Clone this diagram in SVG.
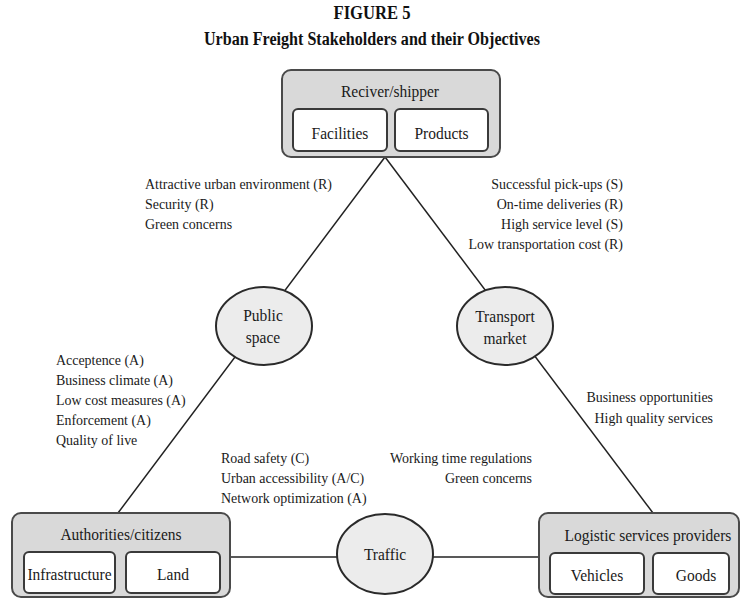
<svg xmlns="http://www.w3.org/2000/svg" width="743" height="598" viewBox="0 0 743 598">
<style>
.title{font-family:"Liberation Serif",serif;font-weight:bold;font-size:18.5px;fill:#111;text-anchor:middle}
.node{font-family:"Liberation Serif",serif;font-size:17.2px;fill:#1a1a1a;text-anchor:middle;transform-box:fill-box;transform-origin:center;transform:scaleX(0.9)}
.ann{font-family:"Liberation Serif",serif;font-size:15.5px;fill:#1a1a1a;transform-box:fill-box;transform-origin:left center;transform:scaleX(0.9)}
.end{text-anchor:end;transform-origin:right center}
.outer{fill:#d9d9d9;stroke:#4a4a4a;stroke-width:2}
.inner{fill:#fff;stroke:#3a3a3a;stroke-width:2}
.ell{fill:#ececec;stroke:#2a2a2a;stroke-width:2}
.conn{stroke:#222;stroke-width:1.5;fill:none}
</style>
<rect width="743" height="598" fill="#fff"/>
<text class="title" x="372" y="19" textLength="77" lengthAdjust="spacingAndGlyphs">FIGURE 5</text>
<text class="title" x="372" y="45" textLength="336" lengthAdjust="spacingAndGlyphs">Urban Freight Stakeholders and their Objectives</text>

<g id="connectors">
<line class="conn" x1="385" y1="157" x2="118" y2="513"/>
<line class="conn" x1="385" y1="157" x2="653" y2="513"/>
<line class="conn" x1="230" y1="557" x2="539" y2="557"/>
</g>

<g id="receiver">
<rect class="outer" x="282" y="70" width="218" height="87" rx="9"/>
<text class="node" x="390" y="97">Reciver/shipper</text>
<rect class="inner" x="293" y="109" width="94" height="42" rx="5"/>
<text class="node" x="340" y="139">Facilities</text>
<rect class="inner" x="395" y="109" width="93" height="42" rx="5"/>
<text class="node" x="441.5" y="139">Products</text>
</g>

<g id="authorities">
<rect class="outer" x="12" y="513" width="218" height="84" rx="9"/>
<text class="node" x="121" y="540">Authorities/citizens</text>
<rect class="inner" x="24" y="552" width="91" height="41" rx="5"/>
<text class="node" x="69.5" y="580">Infrastructure</text>
<rect class="inner" x="126" y="552" width="94" height="41" rx="5"/>
<text class="node" x="173" y="580">Land</text>
</g>

<g id="logistics">
<rect class="outer" x="539" y="513" width="200" height="84" rx="9"/>
<text class="node" x="648" y="541">Logistic services providers</text>
<rect class="inner" x="550" y="553" width="94" height="41" rx="5"/>
<text class="node" x="597" y="581">Vehicles</text>
<rect class="inner" x="653" y="553" width="76" height="41" rx="5"/>
<text class="node" x="696" y="581">Goods</text>
</g>

<g id="public-space">
<ellipse class="ell" cx="264" cy="326" rx="48" ry="39"/>
<text class="node" x="263" y="321">Public</text>
<text class="node" x="263" y="343">space</text>
</g>

<g id="transport-market">
<ellipse class="ell" cx="505" cy="326" rx="48" ry="39"/>
<text class="node" x="505" y="322">Transport</text>
<text class="node" x="505" y="344">market</text>
</g>

<g id="traffic">
<ellipse class="ell" cx="385" cy="554" rx="48" ry="40"/>
<text class="node" x="385" y="560">Traffic</text>
</g>

<g id="labels">
<text class="ann" x="145" y="189">Attractive urban environment (R)</text>
<text class="ann" x="145" y="209">Security (R)</text>
<text class="ann" x="145" y="229">Green concerns</text>

<text class="ann end" x="623" y="189">Successful pick-ups (S)</text>
<text class="ann end" x="623" y="209">On-time deliveries (R)</text>
<text class="ann end" x="623" y="229">High service level (S)</text>
<text class="ann end" x="623" y="249">Low transportation cost (R)</text>

<text class="ann" x="56" y="365">Acceptence (A)</text>
<text class="ann" x="56" y="385">Business climate (A)</text>
<text class="ann" x="56" y="405">Low cost measures (A)</text>
<text class="ann" x="56" y="425">Enforcement (A)</text>
<text class="ann" x="56" y="445">Quality of live</text>

<text class="ann end" x="713" y="402">Business opportunities</text>
<text class="ann end" x="713" y="423">High quality services</text>

<text class="ann" x="221" y="463">Road safety (C)</text>
<text class="ann" x="221" y="483">Urban accessibility (A/C)</text>
<text class="ann" x="221" y="503">Network optimization (A)</text>

<text class="ann end" x="532" y="463">Working time regulations</text>
<text class="ann end" x="532" y="483">Green concerns</text>
</g>
</svg>
